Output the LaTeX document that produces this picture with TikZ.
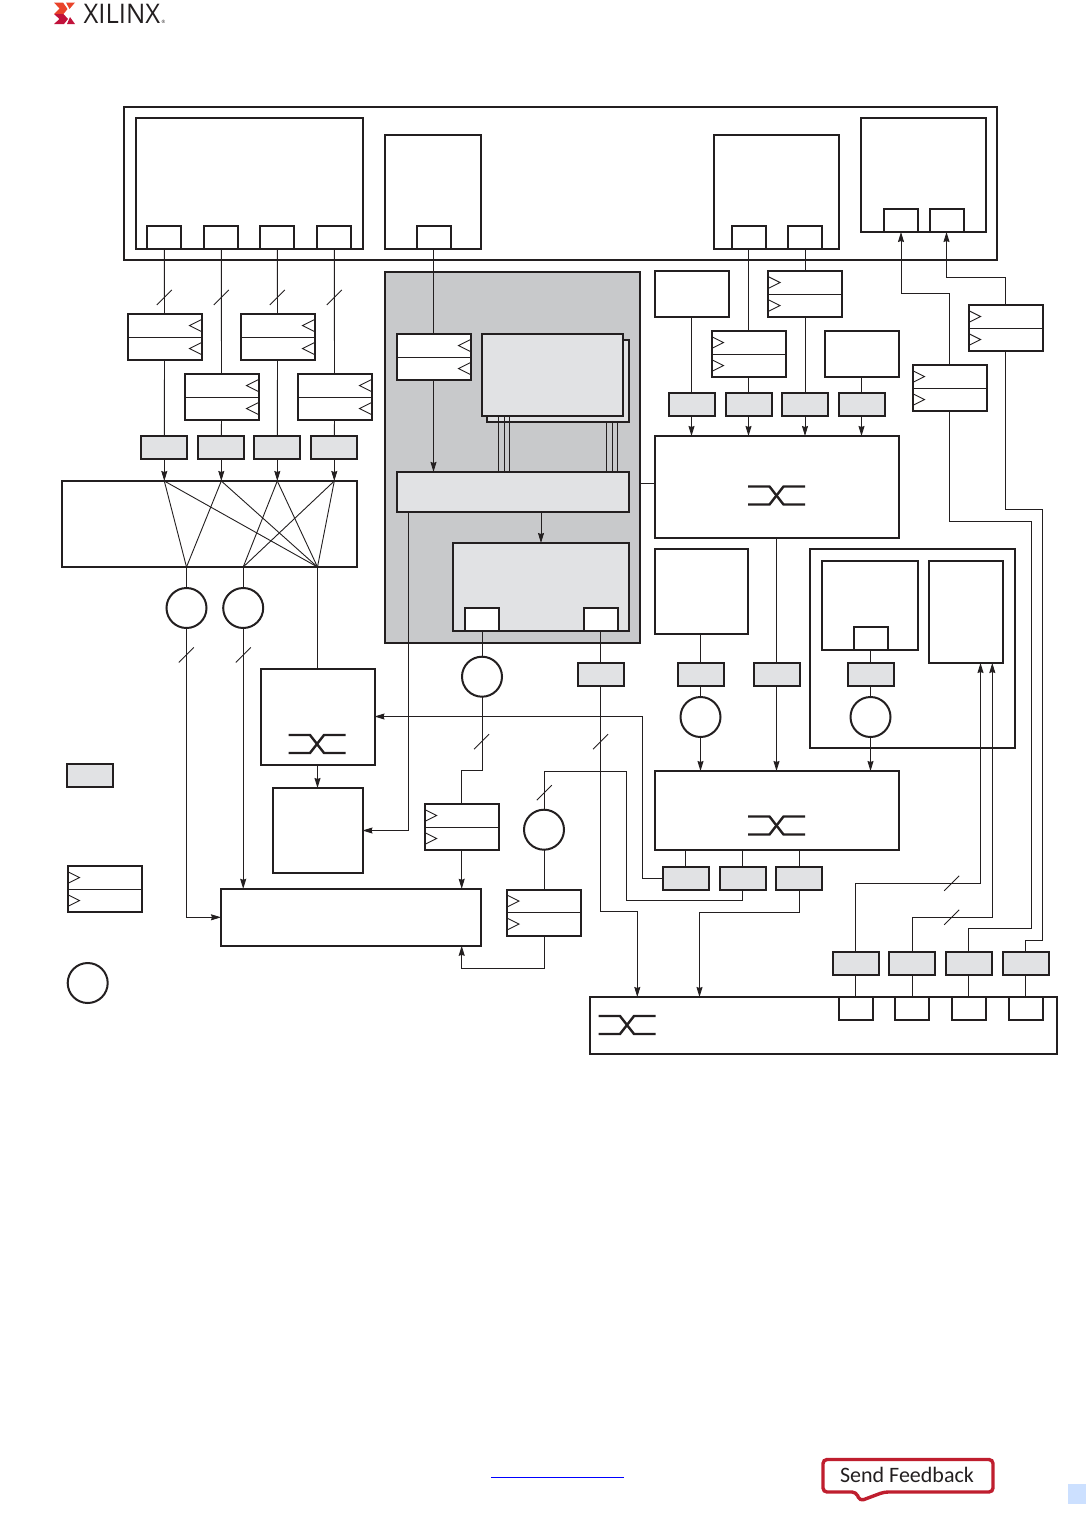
\documentclass[tikz,border=0pt]{standalone}
\usepackage{fontspec}
\usepackage{xcolor}
\newfontfamily\logofont{Open Sans}
\newfontfamily\fbkfont{Carlito}
\definecolor{ink}{HTML}{231F20}
\definecolor{panel}{HTML}{C8C9CB}
\definecolor{shade}{HTML}{E1E2E4}
\definecolor{logoorange}{HTML}{E9442B}
\definecolor{logored}{HTML}{C1123B}
\definecolor{fbkred}{HTML}{BF1E2E}
\definecolor{pagemark}{HTML}{CCE0FF}
\usetikzlibrary{positioning,arrows.meta}
\newcommand{\busmark}[2]{\draw[wire] (#1-7.5,#2+7.5) -- (#1+7.5,#2-7.5);}
\newcommand{\swmark}[2]{%
  \draw[swline] (#1-28.5,#2-9) -- (#1-7,#2-9) -- (#1+7,#2+9) -- (#1+28.5,#2+9);
  \draw[swline] (#1-28.5,#2+9) -- (#1-7,#2+9) -- (#1+7,#2-9) -- (#1+28.5,#2-9);}

\begin{document}
\begin{tikzpicture}[x=1pt, y=-1pt,
    box/.style={draw=ink, fill=white, line width=2pt, inner sep=0pt, outer sep=0pt},
    sz/.style 2 args={minimum width=#1pt, minimum height=#2pt},
    port/.style={box, sz={34}{23}},
    gate/.style={box, fill=shade, sz={46}{23}},
    conv/.style={box, circle, sz={40}{40}},
    regbox/.style={box, sz={74}{46}},
    regr/.style={regbox, path picture={
      \coordinate (w) at (path picture bounding box.west);
      \coordinate (e) at (path picture bounding box.east);
      \draw[wire] (w) -- (e);
      \draw[wire] ([yshift=17.5pt]w) -- ([xshift=12pt,yshift=11.5pt]w) -- ([yshift=5.5pt]w);
      \draw[wire] ([yshift=-5.5pt]w) -- ([xshift=12pt,yshift=-11.5pt]w) -- ([yshift=-17.5pt]w);}},
    regl/.style={regbox, path picture={
      \coordinate (w) at (path picture bounding box.west);
      \coordinate (e) at (path picture bounding box.east);
      \draw[wire] (w) -- (e);
      \draw[wire] ([yshift=17.5pt]e) -- ([xshift=-12pt,yshift=11.5pt]e) -- ([yshift=5.5pt]e);
      \draw[wire] ([yshift=-5.5pt]e) -- ([xshift=-12pt,yshift=-11.5pt]e) -- ([yshift=-17.5pt]e);}},
    wire/.style={draw=ink, line width=0.9pt},
    arr/.style={wire, -{Stealth[length=10pt, width=6pt, inset=1pt]}},
    swline/.style={draw=ink, line width=2.4pt}]
  \useasboundingbox (0,0) rectangle (1086,1516);

  % page furniture
  \fill[logoorange] (54,2.5) -- (63,2.5) -- (67.5,9) -- (63.5,14) -- (54,14) -- (59.5,8.5) -- cycle;
  \fill[logored] (54,14) -- (63.5,14) -- (68,19) -- (64,24) -- (54,24) -- (59.5,19) -- cycle;
  \fill[logoorange] (66,2.5) -- (75,2.5) -- (69.5,9) -- cycle;
  \fill[logored] (67,24) -- (75,24) -- (70,17) -- cycle;
  \node[inner sep=0pt, anchor=west, xscale=0.95, text=ink, font=\logofont\fontsize{27}{27}\selectfont] (logo) at (83.5,13.5) {XILINX};
  \node[inner sep=0pt, text=ink, font=\logofont\fontsize{4.5}{4.5}\selectfont] (logor) at (163.5,21.5) {®};
  \draw[blue, line width=0.8pt] (491,1477) -- (624,1477);
  \draw[fbkred, line width=3.4pt, fill=white, rounded corners=4pt] (823,1459.5) -- (993,1459.5) -- (993,1492) -- (884,1492) -- (860,1501) -- (856,1492) -- (823,1492) -- cycle;
  \node[inner sep=0pt, text=ink, font=\fbkfont\fontsize{22}{22}\selectfont] (fbk) at (907,1475) {Send Feedback};
  \fill[pagemark] (1068,1484) rectangle (1086,1504);

  % top device
  \node[box, sz={873}{153}]   (chip) at (560.5,183.5) {};
  \node[box, sz={227}{130.7}] (blka) at (249.5,183.3) {};
  \node[port]                 (pa1)  at (164.3,237.2) {};
  \node[port, right=23pt of pa1] (pa2) {};
  \node[port, right=22pt of pa2] (pa3) {};
  \node[port, right=23pt of pa3] (pa4) {};
  \node[box, sz={96}{114}]    (blkb) at (433,192) {};
  \node[port]                 (pb)   at (433.5,237.5) {};
  \node[box, sz={125}{114}]   (blkc) at (776.5,192) {};
  \node[port]                 (pc1)  at (748.5,237.5) {};
  \node[port, right=22.5pt of pc1] (pc2) {};
  \node[box, sz={125}{114}]   (blkd) at (923.5,175) {};
  \node[port]                 (pd1)  at (901,220.5) {};
  \node[port, right=11.5pt of pd1] (pd2) {};

  % left column
  \node[regl] (rl1) at (164.5,337) {};
  \node[regl] (rl3) at (277.5,337) {};
  \node[regl] (rl2) at (221.5,397) {};
  \node[regl] (rl4) at (334.5,397) {};
  \node[gate]                 (gs1) at (164.3,447.5) {};
  \node[gate, right=11pt of gs1] (gs2) {};
  \node[gate, right=10pt of gs2] (gs3) {};
  \node[gate, right=11pt of gs3] (gs4) {};
  \node[box, sz={295}{86}]    (mix) at (209.5,524) {};
  \coordinate (mb1) at (186.5,567);
  \coordinate (mb2) at (243.2,567);
  \coordinate (mb3) at (317.5,567);
  \node[conv] (c1) at (186.5,608) {};
  \node[conv] (c2) at (243.2,608) {};
  \node[box, sz={114}{96}]    (swa)  at (317.5,716.5) {};
  \node[box, sz={90}{85}]     (memb) at (317.5,830.5) {};
  \node[box, sz={260}{57}]    (wide) at (351,917.3) {};

  % legend
  \node[gate]   (lg1) at (90,775.5) {};
  \node[regr]   (lg2) at (104.5,889) {};
  \node[conv]   (lg3) at (87.7,983) {};

  % grey panel
  \node[box, fill=panel, sz={255}{371}] (pnl) at (512.5,457.5) {};
  \node[regl] (rg) at (433.5,357) {};
  \node[box, fill=shade, sz={142.3}{82}] (stk2) at (558.2,381) {};
  \node[box, fill=shade, sz={141}{82}]   (stk1) at (552.5,375) {};
  \node[box, fill=shade, sz={232}{40.5}] (wb)   at (513,492.2) {};
  \node[box, fill=shade, sz={176}{88}]   (lp)   at (541,587) {};
  \node[port] (lp1) at (482,619.5) {};
  \node[port] (lp2) at (600.5,619.5) {};

  % centre column
  \node[conv] (c3) at (482,676.7) {};
  \node[regr] (rr1) at (461.7,827) {};
  \node[gate] (gm1) at (600.5,674) {};
  \node[conv] (c6) at (544,829.7) {};
  \node[regr] (rr6) at (544,912.5) {};

  % right column
  \node[regbox] (tb1) at (691.5,294) {};
  \node[regr]   (rr2) at (805,294) {};
  \node[regr]   (rr3) at (748.5,354) {};
  \node[regbox] (tb2) at (861.5,354) {};
  \node[regr]   (rr4) at (949.5,388) {};
  \node[regr]   (rr5) at (1005.5,328) {};
  \node[gate]                 (gt1) at (691.5,404.5) {};
  \node[gate, right=11pt of gt1]   (gt2) {};
  \node[gate, right=10.5pt of gt2] (gt3) {};
  \node[gate, right=10.5pt of gt3] (gt4) {};
  \node[box, sz={244}{102}] (sw1) at (777,487) {};
  \node[box, sz={93}{85}]   (bm)  at (701.5,591.5) {};
  \node[gate] (gn1) at (700.5,674) {};
  \node[gate] (gn2) at (776.5,674) {};
  \node[conv] (c4)  at (700.5,717) {};
  \node[box, sz={205}{199}] (rb)  at (912.5,648.5) {};
  \node[box, sz={96}{89}]   (ri1) at (870,605.5) {};
  \node[port]               (pr)  at (870.5,638.5) {};
  \node[box, sz={74}{102}]  (ri2) at (966,612) {};
  \node[gate] (gn3) at (870.5,674) {};
  \node[conv] (c5)  at (870.5,717) {};
  \node[box, sz={244}{79}]  (sw2) at (777,810.5) {};
  \node[gate]                 (gr1) at (685.7,878) {};
  \node[gate, right=10.8pt of gr1] (gr2) {};
  \node[gate, right=10.5pt of gr2] (gr3) {};
  \node[box, sz={467}{57}]  (out) at (823.5,1025.5) {};
  \node[gate]                 (gb1) at (855.7,963) {};
  \node[gate, right=10.6pt of gb1] (gb2) {};
  \node[gate, right=10.2pt of gb2] (gb3) {};
  \node[gate, right=11pt of gb3]   (gb4) {};
  \node[port, below=22pt of gb1] (po1) {};
  \node[port, below=22pt of gb2] (po2) {};
  \node[port, below=22pt of gb3] (po3) {};
  \node[port, below=22pt of gb4] (po4) {};

  % bends and free ends
  \coordinate (pe)   at (640,483.5);
  \coordinate (jn1)  at (470,770);
  \coordinate (jn2)  at (620,911.3);
  \coordinate (in1)  at (637.3,997);
  \coordinate (in2)  at (699.5,997);
  \coordinate (jn3)  at (925,293.3);
  \coordinate (jn4)  at (975,277.3);
  \coordinate (jn5)  at (1031.7,928.3);
  \coordinate (jn6)  at (990,521.3);
  \coordinate (jn7)  at (1042.3,940.3);
  \coordinate (jn8)  at (1020,509.3);
  \coordinate (jn9)  at (980.5,883.3);
  \coordinate (iu1)  at (980.5,663);
  \coordinate (jn10) at (992.3,917.3);
  \coordinate (iu2)  at (992.3,663);
  \coordinate (jn11) at (642.3,716.5);
  \coordinate (jn12) at (626.7,771.7);
  \coordinate (jn13) at (680,900.3);
  \coordinate (jn14) at (500,968.3);
  \coordinate (jn15) at (750,912.3);

  % left column wires
  \draw[wire] (pa1.south) -- (rl1.north);
  \draw[wire] (pa2.south) -- (rl2.north);
  \draw[wire] (pa3.south) -- (rl3.north);
  \draw[wire] (pa4.south) -- (rl4.north);
  \draw[wire] (rl1.south) -- (gs1.north);
  \draw[wire] (rl2.south) -- (gs2.north);
  \draw[wire] (rl3.south) -- (gs3.north);
  \draw[wire] (rl4.south) -- (gs4.north);
  \draw[arr] (gs1.south) -- (gs1.south |- mix.north);
  \draw[arr] (gs2.south) -- (gs2.south |- mix.north);
  \draw[arr] (gs3.south) -- (gs3.south |- mix.north);
  \draw[arr] (gs4.south) -- (gs4.south |- mix.north);
  \draw[wire] (gs1.south |- mix.north) -- (mb1);
  \draw[wire] (gs1.south |- mix.north) -- (mb3);
  \draw[wire] (gs2.south |- mix.north) -- (mb1);
  \draw[wire] (gs2.south |- mix.north) -- (mb3);
  \draw[wire] (gs3.south |- mix.north) -- (mb2);
  \draw[wire] (gs3.south |- mix.north) -- (mb3);
  \draw[wire] (gs4.south |- mix.north) -- (mb2);
  \draw[wire] (gs4.south |- mix.north) -- (mb3);
  \draw[wire] (mb1) -- (c1.north);
  \draw[wire] (mb2) -- (c2.north);
  \draw[wire] (mb3) -- (swa.north);
  \draw[arr] (c1.south) |- (wide.west);
  \draw[arr] (c2.south) -- (c2.south |- wide.north);
  \draw[arr] (swa.south) -- (memb.north);
  \swmark{317}{744}

  % panel wires
  \draw[wire] (pb.south) -- (rg.north);
  \draw[arr] (rg.south) -- (rg.south |- wb.north);
  \draw[wire] ([xshift=-54.2pt]stk1.south) -- ([xshift=-54.2pt]stk1.south |- wb.north);
  \draw[wire] ([xshift=-48.2pt]stk1.south) -- ([xshift=-48.2pt]stk1.south |- wb.north);
  \draw[wire] ([xshift=-43.2pt]stk1.south) -- ([xshift=-43.2pt]stk1.south |- wb.north);
  \draw[wire] ([xshift=48.5pt]stk2.south) -- ([xshift=48.5pt]stk2.south |- wb.north);
  \draw[wire] ([xshift=53.8pt]stk2.south) -- ([xshift=53.8pt]stk2.south |- wb.north);
  \draw[wire] ([xshift=59.1pt]stk2.south) -- ([xshift=59.1pt]stk2.south |- wb.north);
  \draw[arr] (lp.north |- wb.south) -- (lp.north);
  \draw[arr] ([xshift=-104.7pt]wb.south) |- (memb.east);
  \draw[wire] (pe) -- (pe -| sw1.west);

  % centre wires
  \draw[wire] (lp1.south) -- (c3.north);
  \draw[wire] (c3.south) |- (jn1) -| (rr1.north);
  \draw[arr] (rr1.south) -- (rr1.south |- wide.north);
  \draw[wire] (lp2.south) -- (gm1.north);
  \draw[arr] (gm1.south) |- (jn2) -| (in1);
  \draw[wire] (c6.south) -- (rr6.north);
  \draw[arr] (rr6.south) |- (jn14) -| (rr1.south |- wide.south);
  \draw[wire] (c6.north) |- (jn12) |- (jn13) -| (gr2.south);

  % right wires
  \draw[wire] (pc1.south) -- (rr3.north);
  \draw[wire] (pc2.south) -- (rr2.north);
  \draw[wire] (tb1.south) -- (gt1.north);
  \draw[wire] (rr3.south) -- (gt2.north);
  \draw[wire] (rr2.south) -- (gt3.north);
  \draw[wire] (tb2.south) -- (gt4.north);
  \draw[arr] (gt1.south) -- (gt1.south |- sw1.north);
  \draw[arr] (gt2.south) -- (gt2.south |- sw1.north);
  \draw[arr] (gt3.south) -- (gt3.south |- sw1.north);
  \draw[arr] (gt4.south) -- (gt4.south |- sw1.north);
  \swmark{776.5}{495.5}
  \draw[arr] (rr4.north) |- (jn3) -| (pd1.south);
  \draw[arr] (rr5.north) |- (jn4) -| (pd2.south);
  \draw[wire] (gb3.north) |- (jn5) |- (jn6) -| (rr4.south);
  \draw[wire] (gb4.north) |- (jn7) |- (jn8) -| (rr5.south);
  \draw[wire] (gn2.north |- sw1.south) -- (gn2.north);
  \draw[arr] (gn2.south) -- (gn2.south |- sw2.north);
  \draw[wire] (gn1.north |- bm.south) -- (gn1.north);
  \draw[wire] (gn1.south) -- (c4.north);
  \draw[arr] (c4.south) -- (c4.south |- sw2.north);
  \draw[wire] (pr.south) -- (gn3.north);
  \draw[wire] (gn3.south) -- (c5.north);
  \draw[arr] (c5.south) -- (c5.south |- sw2.north);
  \swmark{776.5}{825.5}
  \draw[wire] (gr1.north) -- (gr1.north |- sw2.south);
  \draw[wire] (gr2.north) -- (gr2.north |- sw2.south);
  \draw[wire] (gr3.north) -- (gr3.north |- sw2.south);
  \draw[arr] (gr1.west) -| (jn11) -- (swa.east);
  \draw[arr] (gr3.south) |- (jn15) -| (in2);
  \draw[arr] (gb1.north) |- (jn9) -- (iu1);
  \draw[arr] (gb2.north) |- (jn10) -- (iu2);
  \draw[wire] (gb1.south) -- (po1.north);
  \draw[wire] (gb2.south) -- (po2.north);
  \draw[wire] (gb3.south) -- (po3.north);
  \draw[wire] (gb4.south) -- (po4.north);
  \swmark{627}{1025}

  % bus marks
  \busmark{164.3}{297.5}
  \busmark{221.3}{297.5}
  \busmark{277.3}{297.5}
  \busmark{334.3}{297.5}
  \busmark{186.3}{655}
  \busmark{243.3}{655}
  \busmark{481.5}{741.7}
  \busmark{600.5}{741.7}
  \busmark{544.3}{792.7}
  \busmark{951.7}{883.3}
  \busmark{951.7}{917.3}
\end{tikzpicture}
\end{document}
